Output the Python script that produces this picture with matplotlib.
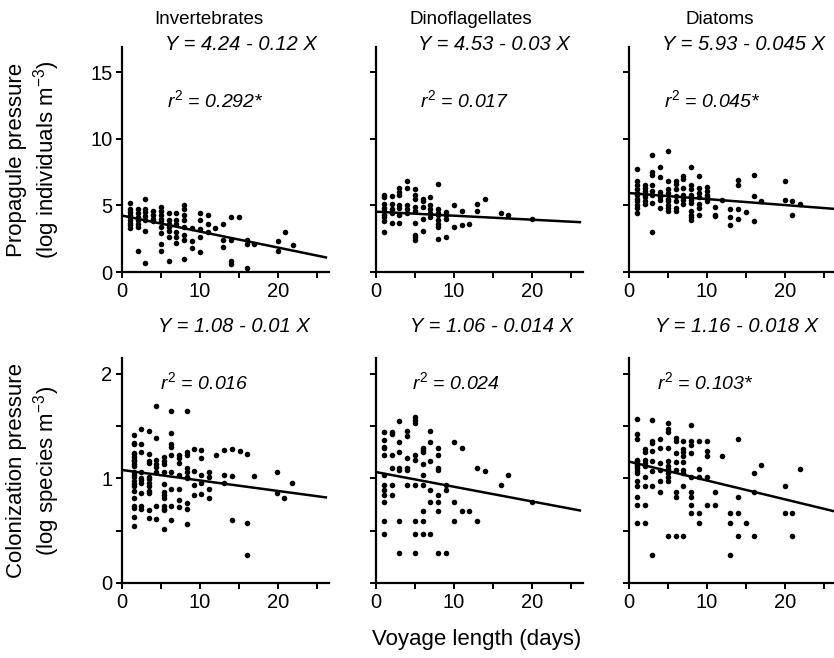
import numpy as np
import matplotlib.pyplot as plt

plt.rcParams['font.family'] = ['Liberation Sans', 'DejaVu Sans']
plt.rcParams['mathtext.fontset'] = 'custom'
plt.rcParams['mathtext.rm'] = 'Liberation Sans'
plt.rcParams['mathtext.it'] = 'Liberation Sans:italic'

# =============================
# DATA: day -> values
# =============================
taxa = ['Invertebrates', 'Dinoflagellates', 'Diatoms']

inv_pp = {1: [5.2, 4.7, 4.5, 4.3, 4.1, 3.9, 3.7, 3.5, 3.3], 2: [4.7, 4.4, 4.1, 3.9, 3.6, 3.4, 1.6],
          3: [5.5, 4.7, 4.5, 4.2, 3.9, 3.1, 0.7], 4: [4.6, 4.3, 4.0, 3.8],
          5: [4.9, 4.6, 4.3, 4.0, 3.8, 3.4, 2.9, 2.1, 1.6], 6: [4.4, 3.9, 3.6, 3.4, 3.1, 2.6, 0.8],
          7: [4.4, 3.9, 3.6, 3.0, 2.6, 2.2], 8: [5.0, 4.7, 4.3, 3.9, 3.4, 2.8, 2.4, 1.0],
          9: [3.3, 2.3, 1.8], 10: [4.4, 3.9, 3.2, 2.6, 1.5], 11: [4.3, 3.6, 3.0], 12: [3.3],
          13: [3.6, 2.4, 1.9], 14: [4.1, 2.4, 0.8, 0.6], 15: [4.1], 16: [2.4, 2.1, 0.3], 17: [2.1],
          20: [2.3, 1.6], 21: [3.0], 22: [2.0]}
dino_pp = {1: [5.8, 5.6, 5.1, 4.8, 4.6, 4.3, 4.1, 3.8, 3.0], 2: [5.7, 5.1, 4.7, 4.4, 3.7],
           3: [6.3, 6.0, 5.8, 5.0, 4.8, 4.3, 3.7], 4: [6.8, 6.3, 5.0, 4.7, 4.4],
           5: [6.2, 5.8, 5.5, 4.9, 4.6, 3.7, 2.8, 2.6, 2.4], 6: [5.5, 5.3, 4.9, 4.0, 3.1],
           7: [5.6, 5.0, 4.7, 4.4, 4.1], 8: [6.6, 4.7, 4.4, 4.3, 3.9, 3.6, 3.4, 2.5],
           9: [4.5, 4.3, 4.0, 2.6], 10: [5.0, 3.4], 11: [4.6, 3.5], 12: [3.6], 13: [5.1, 4.6],
           14: [5.5], 16: [4.4], 17: [4.3], 20: [4.0]}
diat_pp = {1: [7.7, 6.8, 6.5, 6.2, 5.9, 5.8, 5.5, 5.3, 5.0, 4.8, 4.4], 2: [6.5, 6.3, 6.1, 5.8, 5.6, 5.3, 5.1],
           3: [8.8, 7.5, 7.3, 6.5, 6.1, 5.8, 5.2, 3.0], 4: [7.9, 7.1, 6.0, 5.8, 5.6, 5.4, 4.8],
           5: [9.1, 6.8, 6.2, 5.9, 5.5, 5.3, 5.0, 4.8, 4.6], 6: [6.8, 6.6, 6.2, 5.7, 5.3, 4.8, 4.6],
           7: [7.2, 7.0, 6.3, 5.8, 5.6, 5.4, 5.1], 8: [7.9, 6.5, 6.2, 5.8, 5.4, 5.2, 4.6, 4.3, 4.1, 3.9],
           9: [7.2, 6.3, 5.9, 5.6, 5.1, 4.8, 4.3], 10: [6.4, 6.1, 5.8, 5.6, 5.3], 11: [4.9, 4.3, 4.2],
           12: [5.4], 13: [4.7, 4.1, 3.5], 14: [6.9, 6.5, 4.7, 4.0], 15: [4.5], 16: [7.3, 5.7, 3.8],
           17: [5.3], 20: [6.8, 5.4], 21: [5.3, 4.3], 22: [5.1]}

inv_cp = {1.5: [1.41, 1.34, 1.33, 1.24, 1.23, 1.20, 1.18, 1.17, 1.14, 1.12, 1.06, 1.03, 1.01, 0.97, 0.95,
                0.93, 0.88, 0.81, 0.74, 0.72, 0.63, 0.54],
          2.5: [1.47, 1.33, 1.25, 1.06, 1.0, 0.98, 0.96, 0.86, 0.74, 0.71],
          3.5: [1.45, 1.23, 1.17, 1.15, 1.01, 0.99, 0.96, 0.93, 0.88, 0.86, 0.70, 0.62],
          4.4: [1.69, 1.39, 1.18, 1.14, 1.11, 1.06, 0.74, 0.61],
          5.4: [1.20, 1.17, 1.14, 1.06, 0.95, 0.87, 0.84, 0.81, 0.74, 0.71, 0.70, 0.52],
          6.3: [1.64, 1.43, 1.33, 1.30, 1.22, 1.06, 0.90, 0.74, 0.60],
          7.3: [1.22, 1.19, 1.15, 1.03, 0.90, 0.79, 0.73],
          8.3: [1.64, 1.25, 1.22, 1.10, 1.06, 1.01, 1.0, 0.76, 0.71, 0.56],
          9.3: [1.28, 1.07, 0.94, 0.84], 10.2: [1.27, 1.19, 1.03, 0.96, 0.85], 11.2: [1.06, 1.01, 0.90, 0.81],
          12.1: [1.22], 13.1: [1.27, 1.03, 0.96], 14.1: [1.28, 1.02, 0.60], 15.1: [1.26],
          16.0: [1.23, 0.57, 0.27], 17.0: [1.02], 19.9: [1.06, 0.86], 20.8: [0.81], 21.8: [0.96]}
dino_cp = {1: [1.44, 1.37, 1.30, 1.29, 1.22, 1.03, 0.94, 0.89, 0.84, 0.77, 0.59, 0.47],
           2: [1.44, 1.42, 1.22, 1.10, 0.94, 0.84], 3: [1.55, 1.35, 1.25, 1.10, 1.08, 0.59, 0.29],
           4: [1.45, 1.40, 1.19, 1.10, 1.08, 0.94], 5: [1.59, 1.56, 1.53, 1.22, 1.18, 0.94, 0.59, 0.47, 0.29],
           6: [1.29, 1.27, 1.25, 1.14, 1.03, 0.94, 0.69, 0.59, 0.47], 7: [1.45, 1.35, 1.17, 0.89, 0.77, 0.47],
           8: [1.29, 1.22, 1.10, 1.08, 0.84, 0.77, 0.69, 0.29], 9: [0.94, 0.89, 0.29], 10: [1.35, 0.77, 0.59],
           11: [1.29, 0.69], 12: [0.69], 13: [1.10, 0.59], 14: [1.07], 16: [0.94], 17: [1.03], 20: [0.77]}
diat_cp = {1: [1.57, 1.42, 1.38, 1.18, 1.17, 1.14, 1.12, 1.10, 1.07, 1.05, 0.97, 0.93, 0.82, 0.75, 0.57],
           2: [1.28, 1.25, 1.18, 1.15, 1.12, 1.01, 0.93, 0.75, 0.57], 3: [1.56, 1.36, 1.34, 1.26, 1.17, 1.07, 0.93, 0.27],
           4: [1.38, 1.29, 1.15, 1.08, 0.97, 0.87],
           5: [1.53, 1.47, 1.44, 1.29, 1.17, 1.12, 1.09, 1.05, 1.01, 0.97, 0.45],
           6: [1.39, 1.36, 1.24, 1.16, 1.08, 0.87, 0.82, 0.45],
           7: [1.36, 1.28, 1.25, 1.21, 1.16, 1.08, 1.05, 0.93, 0.45],
           8: [1.51, 1.36, 1.32, 1.24, 1.01, 0.87, 0.82, 0.75, 0.67], 9: [1.36, 1.09, 1.01, 0.67, 0.57],
           10: [1.36, 1.26, 1.21, 1.01, 0.75], 11: [0.87, 0.75], 12: [1.21], 13: [0.67, 0.57, 0.27],
           14: [1.38, 0.82, 0.67, 0.45], 15: [0.57], 16: [1.05, 0.87, 0.45], 17: [1.13], 20: [0.93, 0.67],
           21: [0.67, 0.45], 22: [1.09]}

# regression coefficients (intercept, slope) and r2 labels
pp_fit = [(4.24, -0.12), (4.53, -0.03), (5.93, -0.045)]
cp_fit = [(1.08, -0.01), (1.06, -0.014), (1.16, -0.018)]
pp_eq = ['Y = 4.24 - 0.12 X', 'Y = 4.53 - 0.03 X', 'Y = 5.93 - 0.045 X']
pp_r2 = ['0.292*', '0.017', '0.045*']
cp_eq = ['Y = 1.08 - 0.01 X', 'Y = 1.06 - 0.014 X', 'Y = 1.16 - 0.018 X']
cp_r2 = ['0.016', '0.024', '0.103*']

W, H = 834, 658
fig = plt.figure(figsize=(W / 100, H / 100), dpi=100)


def px(x, y):
    return x / W, 1 - y / H


lefts = [122, 376, 629]
tops = [47, 358]
aw, ah = 207, 225


def draw(ax, data, fit, ylim, yticks, ylabels):
    xs = np.concatenate([[d] * len(v) for d, v in data.items()])
    ys = np.concatenate([v for v in data.values()])
    ax.scatter(xs, ys, s=16, color='black', linewidths=0, zorder=3)
    xl = np.array([0, 26.2])
    ax.plot(xl, fit[0] + fit[1] * xl, color='black', lw=1.8)
    ax.set_xlim(0, 26.6)
    ax.set_ylim(*ylim)
    ax.set_xticks([0, 5, 10, 15, 20, 25])
    ax.set_xticklabels(['0', '', '10', '', '20', ''])
    ax.set_yticks(yticks)
    ax.set_yticklabels(ylabels)
    for s in ['top', 'right']:
        ax.spines[s].set_visible(False)
    for s in ['left', 'bottom']:
        ax.spines[s].set_linewidth(1.6)
    ax.tick_params(direction='out', length=4, width=1.4, labelsize=14.5, pad=3)


pp_sets = [inv_pp, dino_pp, diat_pp]
cp_sets = [inv_cp, dino_cp, diat_cp]

for i in range(3):
    l, b = px(lefts[i], tops[0] + ah)
    ax = fig.add_axes([l, b, aw / W, ah / H])
    draw(ax, pp_sets[i], pp_fit[i], (0, 16.9), [0, 5, 10, 15], ['0', '5', '10', '15'])
    if i > 0:
        ax.set_yticklabels([])

    l, b = px(lefts[i], tops[1] + ah)
    ax = fig.add_axes([l, b, aw / W, ah / H])
    draw(ax, cp_sets[i], cp_fit[i], (0, 2.15), [0, 0.5, 1, 1.5, 2], ['0', '', '1', '', '2'])
    if i > 0:
        ax.set_yticklabels([])

# y axis labels
fig.text(*px(34, tops[0] + ah / 2), 'Propagule pressure\n(log individuals m$^{-3}$)', rotation=90,
         ha='center', va='center', fontsize=16, linespacing=1.15, multialignment='center')
fig.text(*px(34, tops[1] + ah / 2), 'Colonization pressure\n(log species m$^{-3}$)', rotation=90,
         ha='center', va='center', fontsize=16, linespacing=1.15, multialignment='center')

# titles
for name, cx in zip(taxa, [209, 471, 720]):
    fig.text(*px(cx, 20), name, ha='center', va='center', fontsize=13.5)

# equations
pp_eq_x = [165, 418, 662]
cp_eq_x = [158, 410, 655]
for i in range(3):
    fig.text(*px(pp_eq_x[i], 45), pp_eq[i], ha='left', va='center', fontsize=14.5, style='italic')
    fig.text(*px(pp_eq_x[i] + 2, 100), '$r^{2}$ = ' + pp_r2[i], ha='left', va='center',
             fontsize=14, style='italic')
    fig.text(*px(cp_eq_x[i], 327), cp_eq[i], ha='left', va='center', fontsize=14.5, style='italic')
    fig.text(*px(cp_eq_x[i] + 2, 382), '$r^{2}$ = ' + cp_r2[i], ha='left', va='center',
             fontsize=14, style='italic')

fig.text(*px(477, 640), 'Voyage length (days)', ha='center', va='center', fontsize=16)

fig.savefig('out.png', dpi=100)
